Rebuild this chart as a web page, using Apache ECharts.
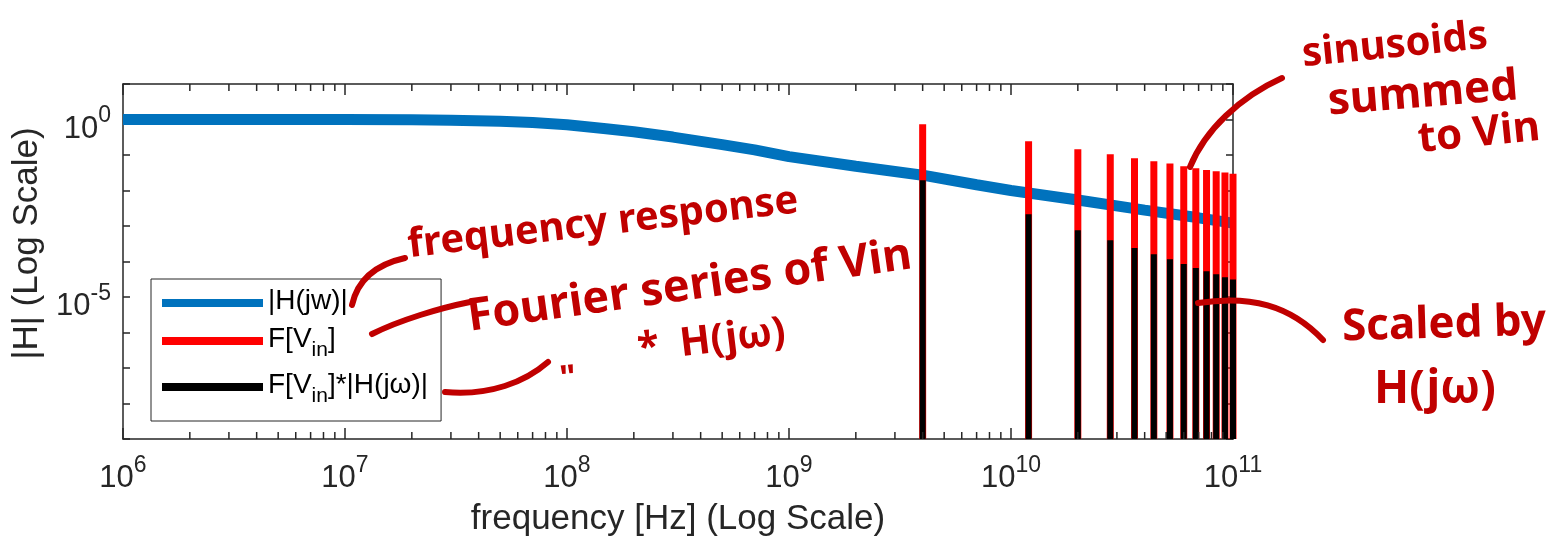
<!DOCTYPE html>
<html><head><meta charset="utf-8">
<script src="https://cdn.jsdelivr.net/npm/echarts@6/dist/echarts.min.js"></script>
<style>html,body{margin:0;padding:0;background:#fff}#c{width:1567px;height:546px}</style>
</head><body><div id="c"></div>
<script>
// |H(jw)| frequency response
const freqH = [1e6, 1e7, 2e7, 3e7, 5e7, 7e7, 1e8, 1.5e8, 2e8, 3e8, 5e8, 7e8, 1e9, 2e9, 4e9, 7e9, 1e10, 2e10, 4e10, 7e10, 1e11];
const magH  = [1.0, 0.995, 0.98, 0.955, 0.89, 0.82, 0.71, 0.55, 0.45, 0.32, 0.196, 0.14, 0.09, 0.048, 0.027, 0.0145, 0.0100, 0.0054, 0.0028, 0.0017, 0.0012];
// Fourier series harmonics of Vin
const freqF = [4e9, 1.2e10, 2e10, 2.8e10, 3.6e10, 4.4e10, 5.2e10, 6e10, 6.8e10, 7.6e10, 8.4e10, 9.2e10, 1e11];
const magF  = [0.738, 0.245, 0.146, 0.105, 0.081, 0.067, 0.0575, 0.0484, 0.0425, 0.038, 0.035, 0.0321, 0.0294];
// F[Vin]*|H(jw)|
const magFH = [0.0195, 0.00215, 7.6e-4, 3.98e-4, 2.4e-4, 1.61e-4, 1.15e-4, 8.5e-5, 6.6e-5, 5.3e-5, 4.4e-5, 3.6e-5, 3.1e-5];
// axis ranges / tick labels
const xMin = 1e6, xMax = 1e11;
const yMin = 1e-9, yMax = 10;
const yLabelExponents = [0, -5];
const seriesNames = ['|H(jw)|', 'F[Vin]', 'F[Vin]*|H(jω)|'];

const AX = '#262626';
const minorX = [];
for (let e = 6; e < 11; e++) for (let k = 2; k <= 9; k++) minorX.push([k * Math.pow(10, e), 1]);

function stem(color, width) {
  return function (params, api) {
    const cs = params.coordSys;
    const p = api.coord([api.value(0), api.value(1)]);
    return { type: 'line', shape: { x1: p[0], y1: cs.y + cs.height, x2: p[0], y2: p[1] },
      style: { stroke: color, lineWidth: width } };
  };
}
function minorTicks(params, api) {
  const cs = params.coordSys;
  const p = api.coord([api.value(0), 1]);
  const b = cs.y + cs.height, t = cs.y;
  return { type: 'group', children: [
    { type: 'line', shape: { x1: p[0], y1: b, x2: p[0], y2: b - 7 }, style: { stroke: AX, lineWidth: 1.5 } },
    { type: 'line', shape: { x1: p[0], y1: t, x2: p[0], y2: t + 7 }, style: { stroke: AX, lineWidth: 1.5 } }
  ] };
}
const supRich = {
  b: { fontSize: 31, lineHeight: 40, verticalAlign: 'bottom', color: AX, fontFamily: 'Liberation Sans' },
  s: { fontSize: 23, lineHeight: 23, verticalAlign: 'top', color: AX, fontFamily: 'Liberation Sans' }
};
const legRich = {
  a: { fontSize: 28, lineHeight: 32, verticalAlign: 'top', color: '#000', fontFamily: 'Liberation Sans' },
  i: { fontSize: 21, lineHeight: 21, verticalAlign: 'top', padding: [15, 0, 0, 0], color: '#000', fontFamily: 'Liberation Sans' }
};
const legFmt = {
  '|H(jw)|': '{a||H(jw)|}',
  'F[Vin]': '{a|F[V}{i|in}{a|]}',
  'F[Vin]*|H(jω)|': '{a|F[V}{i|in}{a|]*|H(j\u03c9)|}'
};

const chart = echarts.init(document.getElementById('c'));
const RED = '#c00000';
const hw = (txt, x, y, rot, size) => ({ type: 'text', x: x, y: y, rotation: rot, z: 100,
  style: { text: txt, fill: RED, font: 'bold ' + size + 'px "Noto Sans"', textAlign: 'left', textVerticalAlign: 'middle' } });
const stroke = (x1, y1, c1x, c1y, c2x, c2y, x2, y2) => ({ type: 'bezierCurve', z: 100,
  shape: { x1: x1, y1: y1, cpx1: c1x, cpy1: c1y, cpx2: c2x, cpy2: c2y, x2: x2, y2: y2 },
  style: { stroke: RED, lineWidth: 6, lineCap: 'round', fill: null } });

chart.setOption({
  backgroundColor: '#fff',
  animation: false,
  grid: { left: 123, right: 334, top: 84, bottom: 107, containLabel: false },
  xAxis: [
    { type: 'log', logBase: 10, min: xMin, max: xMax, splitNumber: 5, position: 'bottom',
      axisLine: { show: true, onZero: false, lineStyle: { color: AX, width: 1.5 } },
      axisTick: { show: true, inside: true, length: 11, lineStyle: { color: AX, width: 1.5 } },
      splitLine: { show: false },
      axisLabel: { margin: 15, fontSize: 31, formatter: v => '{b|10}{s|' + Math.round(Math.log10(v)) + '}', rich: supRich },
      name: 'frequency [Hz] (Log Scale)', nameLocation: 'middle', nameGap: 63,
      nameTextStyle: { fontSize: 35, color: AX, fontFamily: 'Liberation Sans' } },
    { type: 'log', logBase: 10, min: xMin, max: xMax, splitNumber: 5, position: 'top',
      axisLine: { show: true, onZero: false, lineStyle: { color: AX, width: 1.5 } },
      axisTick: { show: true, inside: true, length: 11, lineStyle: { color: AX, width: 1.5 } },
      splitLine: { show: false }, axisLabel: { show: false } }
  ],
  yAxis: [
    { type: 'log', logBase: 10, min: yMin, max: yMax, splitNumber: 10, position: 'left',
      axisLine: { show: true, onZero: false, lineStyle: { color: AX, width: 1.5 } },
      axisTick: { show: true, inside: true, length: 7, lineStyle: { color: AX, width: 1.5 } },
      splitLine: { show: false },
      axisLabel: { margin: 12, fontSize: 31, padding: [10, 0, 0, 0],
        formatter: v => { const e = Math.round(Math.log10(v)); return yLabelExponents.indexOf(e) >= 0 ? '{b|10}{s|' + e + '}' : ''; },
        rich: supRich },
      name: '|H| (Log Scale)', nameLocation: 'middle', nameGap: 70,
      nameTextStyle: { fontSize: 35, color: AX, fontFamily: 'Liberation Sans', padding: [0, 0, 0, 36] } },
    { type: 'log', logBase: 10, min: yMin, max: yMax, splitNumber: 10, position: 'right',
      axisLine: { show: true, onZero: false, lineStyle: { color: AX, width: 1.5 } },
      axisTick: { show: true, inside: true, length: 7, lineStyle: { color: AX, width: 1.5 } },
      splitLine: { show: false }, axisLabel: { show: false } }
  ],
  legend: {
    left: 151, top: 279, orient: 'vertical', selectedMode: false,
    padding: [8, 13, 14, 11], itemGap: 10, itemWidth: 101, itemHeight: 8, itemTextGap: 10,
    borderColor: AX, borderWidth: 1, backgroundColor: '#fff', borderRadius: 0,
    data: [
      { name: seriesNames[0], icon: 'rect', itemStyle: { color: '#0072BD' } },
      { name: seriesNames[1], icon: 'rect', itemStyle: { color: '#FF0000' } },
      { name: seriesNames[2], icon: 'rect', itemStyle: { color: '#000000' } }
    ],
    formatter: n => legFmt[n], textStyle: { rich: legRich }
  },
  series: [
    { name: seriesNames[0], type: 'line', xAxisIndex: 0, yAxisIndex: 0, showSymbol: false, z: 2,
      data: freqH.map((f, i) => [f, magH[i]]), lineStyle: { color: '#0072BD', width: 11 }, itemStyle: { color: '#0072BD' } },
    { name: seriesNames[1], type: 'custom', z: 3, clip: false, renderItem: stem('#FF0000', 7),
      data: freqF.map((f, i) => [f, magF[i]]), itemStyle: { color: '#FF0000' } },
    { name: seriesNames[2], type: 'custom', z: 4, clip: false, renderItem: stem('#000000', 6),
      data: freqF.map((f, i) => [f, magFH[i]]), itemStyle: { color: '#000000' } },
    { type: 'custom', z: 5, silent: true, clip: false, renderItem: minorTicks, data: minorX }
  ],
  graphic: [
    hw('frequency response', 408, 246, 0.115, 40),
    hw('Fourier series of Vin', 468, 318, 0.14, 45),
    hw('"', 560, 380, 0.1, 34),
    hw('*  H(j\u03c9)', 638, 350, 0.12, 40),
    hw('sinusoids', 1302, 55, 0.1, 40),
    hw('summed', 1328, 102, 0.08, 44),
    hw('to Vin', 1418, 140, 0.1, 42),
    hw('Scaled by', 1342, 328, 0.03, 44),
    hw('H(j\u03c9)', 1374, 390, 0.0, 46),
    stroke(352, 305, 358, 278, 378, 264, 405, 258),
    stroke(372, 334, 400, 320, 440, 308, 470, 302),
    stroke(445, 392, 490, 396, 525, 382, 548, 362),
    stroke(1190, 167, 1205, 130, 1240, 97, 1282, 78),
    stroke(1198, 303, 1250, 295, 1290, 305, 1323, 340)
  ]
});
</script></body></html>
